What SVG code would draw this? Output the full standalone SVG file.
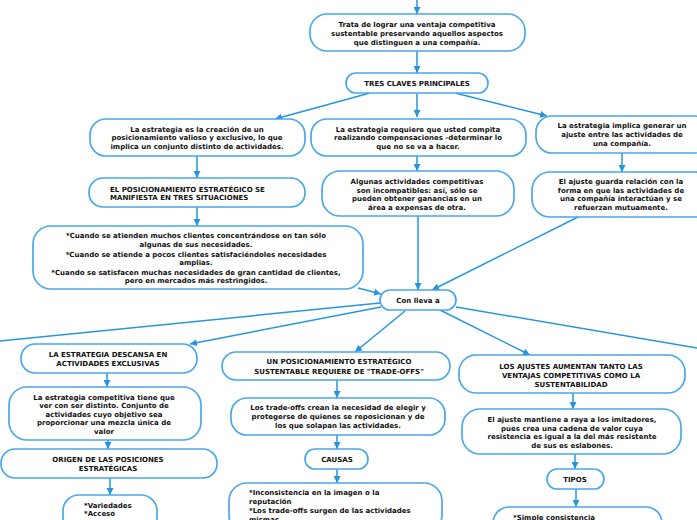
<svg xmlns="http://www.w3.org/2000/svg" width="697" height="520" viewBox="0 0 697 520">
<defs>
<marker id="ah" viewBox="0 0 10 10" refX="10" refY="5" markerWidth="7" markerHeight="7" markerUnits="userSpaceOnUse" orient="auto"><path d="M0,0 L10,5 L0,10 z" fill="#2596de"/></marker>
</defs>
<style>
.n rect{fill:#fff;stroke:#4aa8ea;stroke-width:1.7}
.n text{font-family:"DejaVu Sans",Verdana,sans-serif;font-weight:bold;font-size:7px;fill:#111;text-anchor:middle}
.n text.l{text-anchor:start}
#edges path{fill:none;stroke:#2596de;stroke-width:1.5;marker-end:url(#ah)}
#edges path.nm{marker-end:none}
</style>
<rect width="697" height="520" fill="#fff"/>
<g id="edges">
<path d="M417,0 L417,14"/>
<path d="M417,51 L417,73"/>
<path d="M370,93 L275,119"/>
<path d="M417,93 L417,117"/>
<path d="M455,93 L547,116"/>
<path d="M197,156 L197,178"/>
<path d="M417,156 L417,171"/>
<path d="M622,153 L622,172"/>
<path d="M197,207 L197,226"/>
<path d="M358,288 L381,294"/>
<path d="M418,216 L418,290"/>
<path d="M580,216 L432,290"/>
<path class="nm" d="M380,303 L-20,343"/>
<path d="M381,307 L190,344"/>
<path d="M405,311 L355,352"/>
<path d="M440,310 L530,355"/>
<path class="nm" d="M456,307 L720,352"/>
<path d="M107,373 L107,387"/>
<path d="M108,440 L108,449"/>
<path d="M110,478 L110,495"/>
<path d="M337,380 L337,398"/>
<path d="M337,435 L337,449"/>
<path d="M337,469 L337,483"/>
<path d="M573,393 L573,409"/>
<path d="M575,454 L575,469"/>
<path d="M576,489 L576,507"/>
</g>
<g id="n1" class="n"><rect x="310" y="14" width="215" height="37" rx="17"/>
<text x="417" y="27">Trata de lograr una ventaja competitiva</text><text x="417" y="36">sustentable preservando aquellos aspectos</text><text x="417" y="45">que distinguen a una compañía.</text></g>
<g id="n2" class="n"><rect x="346" y="73" width="142" height="20" rx="10"/>
<text x="417" y="85.5">TRES CLAVES PRINCIPALES</text></g>
<g id="n3" class="n"><rect x="90" y="119" width="215" height="37" rx="16"/>
<text x="197" y="131.5">La estrategia es la creación de un</text><text x="197" y="140.4">posicionamiento valioso y exclusivo, lo que</text><text x="197" y="149.2">implica un conjunto distinto de actividades.</text></g>
<g id="n4" class="n"><rect x="311" y="119" width="215" height="37" rx="16"/>
<text x="418" y="131.5">La estrategia requiere que usted compita</text><text x="418" y="140.2">realizando compensaciones -determinar lo</text><text x="418" y="149">que no se va a hacer.</text></g>
<g id="n5" class="n"><rect x="536" y="116" width="174" height="37" rx="16"/>
<text x="622" y="128.4">La estrategia implica generar un</text><text x="622" y="136.8">ajuste entre las actividades de</text><text x="622" y="145.6">una compañía.</text></g>
<g id="n6" class="n"><rect x="89" y="178" width="216" height="29" rx="14"/>
<text class="l" x="110" y="191.7">EL POSICIONAMIENTO ESTRATÉGICO SE</text><text class="l" x="110" y="200.4">MANIFIESTA EN TRES SITUACIONES</text></g>
<g id="n7" class="n"><rect x="322" y="171" width="192" height="45" rx="18"/>
<text x="417" y="184">Algunas actividades competitivas</text><text x="417" y="192.7">son incompatibles: así, sólo se</text><text x="417" y="201.4">pueden obtener ganancias en un</text><text x="417" y="210">área a expensas de otra.</text></g>
<g id="n8" class="n"><rect x="532" y="172" width="180" height="45" rx="18"/>
<text x="621" y="184">El ajuste guarda relación con la</text><text x="621" y="192.7">forma en que las actividades de</text><text x="621" y="201.4">una compañía interactúan y se</text><text x="621" y="210">refuerzan mutuamente.</text></g>
<g id="n9" class="n"><rect x="33" y="226" width="330" height="63" rx="18"/>
<text x="196" y="238.4">*Cuando se atienden muchos clientes concentrándose en tan sólo</text><text x="196" y="247.2">algunas de sus necesidades.</text><text x="196" y="256.6">*Cuando se atiende a pocos clientes satisfaciéndoles necesidades</text><text x="196" y="265">amplias.</text><text x="196" y="274.6">*Cuando se satisfacen muchas necesidades de gran cantidad de clientes,</text><text x="196" y="283">pero en mercados más restringidos.</text></g>
<g id="n10" class="n"><rect x="380" y="290" width="76" height="20" rx="10"/>
<text x="418" y="303">Con lleva a</text></g>
<g id="n11" class="n"><rect x="21" y="344" width="176" height="29" rx="14"/>
<text x="108" y="356.7">LA ESTRATEGIA DESCANSA EN</text><text x="108" y="366">ACTIVIDADES EXCLUSIVAS</text></g>
<g id="n12" class="n"><rect x="9" y="387" width="192" height="53" rx="18"/>
<text x="104" y="400">La estrategia competitiva tiene que</text><text x="104" y="408.4">ver con ser distinto. Conjunto de</text><text x="104" y="417">actividades cuyo objetivo sea</text><text x="104" y="425.4">proporcionar una mezcla única de</text><text x="104" y="434">valor</text></g>
<g id="n13" class="n"><rect x="1" y="449" width="216" height="29" rx="14"/>
<text x="108" y="462.4">ORIGEN DE LAS POSICIONES</text><text x="108" y="470.7">ESTRATÉGICAS</text></g>
<g id="n14" class="n"><rect x="63" y="495" width="94" height="40" rx="16"/>
<text class="l" x="84" y="508.4">*Variedades</text><text class="l" x="84" y="516.4">*Acceso</text></g>
<g id="n15" class="n"><rect x="222" y="352" width="228" height="28" rx="14"/>
<text x="339" y="364.2">UN POSICIONAMIENTO ESTRATÉGICO</text><text x="339" y="373.6">SUSTENTABLE REQUIERE DE "TRADE-OFFS"</text></g>
<g id="n16" class="n"><rect x="231" y="398" width="214" height="37" rx="16"/>
<text x="338" y="410">Los trade-offs crean la necesidad de elegir y</text><text x="338" y="419">protegerse de quienes se reposicionan y de</text><text x="338" y="428">los que solapan las actividades.</text></g>
<g id="n17" class="n"><rect x="305" y="449" width="63" height="20" rx="10"/>
<text x="337" y="461.7">CAUSAS</text></g>
<g id="n18" class="n"><rect x="229" y="483" width="213" height="50" rx="18"/>
<text class="l" x="249" y="495.4">*Inconsistencia en la imagen o la</text><text class="l" x="249" y="504.4">reputación</text><text class="l" x="249" y="513.4">*Los trade-offs surgen de las actividades</text><text class="l" x="249" y="522">mismas</text></g>
<g id="n19" class="n"><rect x="459" y="355" width="226" height="38" rx="17"/>
<text x="571" y="369">LOS AJUSTES AUMENTAN TANTO LAS</text><text x="571" y="378.3">VENTAJAS COMPETITIVAS COMO LA</text><text x="571" y="387.3">SUSTENTABILIDAD</text></g>
<g id="n20" class="n"><rect x="462" y="409" width="219" height="45" rx="18"/>
<text x="572" y="421.7">El ajuste mantiene a raya a los imitadores,</text><text x="572" y="430.7">pues crea una cadena de valor cuya</text><text x="572" y="439.4">resistencia es igual a la del más resistente</text><text x="572" y="448">de sus es eslabones.</text></g>
<g id="n21" class="n"><rect x="547" y="469" width="57" height="20" rx="10"/>
<text x="575" y="482.4">TIPOS</text></g>
<g id="n22" class="n"><rect x="493" y="507" width="169" height="40" rx="16"/>
<text class="l" x="513" y="519.5">*Simple consistencia</text></g>
</svg>
